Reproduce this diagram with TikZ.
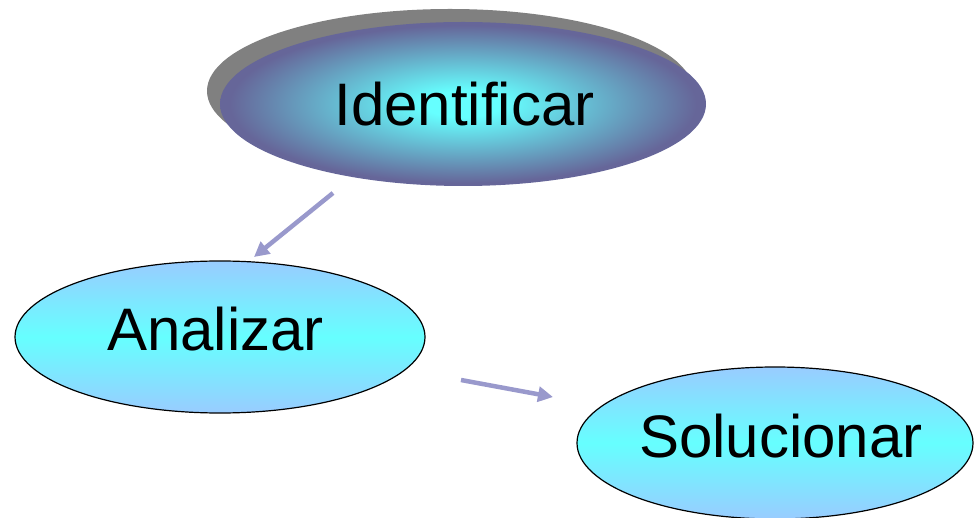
\documentclass[tikz,border=0pt]{standalone}
\usepackage{fontspec}
\setmainfont{Liberation Sans}
\usetikzlibrary{shapes.geometric,arrows.meta}
\definecolor{idcyan}{HTML}{66FFFF}
\definecolor{idslate}{HTML}{666699}
\definecolor{lblue}{HTML}{99CCFF}
\definecolor{arrowc}{HTML}{9999CC}
\definecolor{shadowc}{HTML}{808080}
\pgfdeclareradialshading{idshade}{\pgfpoint{0bp}{0bp}}{color(0bp)=(idcyan); color(4bp)=(idcyan); color(24bp)=(idslate); color(50bp)=(idslate)}
\begin{document}
\begin{tikzpicture}[x=1pt,y=-1pt,
  oval/.style={ellipse, inner sep=0pt, minimum height=152pt},
  lightoval/.style={oval, draw=black, line width=1.2pt, top color=lblue, bottom color=lblue, middle color=idcyan},
  lbl/.style={font=\fontsize{60}{72}\selectfont, inner sep=0pt, anchor=base},
  conn/.style={draw=arrowc, line width=4.5pt, -{Triangle[length=15pt,width=15pt]}}]
\useasboundingbox (0,0) rectangle (974,518);
\clip (0,0) rectangle (974,518);
% Identificar
\node[oval, fill=shadowc, minimum width=486pt, minimum height=164pt] (idshadow) at (450,91) {};
\node[oval, shading=idshade, minimum width=486pt, minimum height=164pt] (ident) at (463,104) {};
\node[lbl] (identt) at (464.5,126) {Identificar};
% Analizar
\node[lightoval, minimum width=410pt] (anal) at (220,337) {};
\node[lbl] (analt) at (215.5,351) {Analizar};
% Solucionar
\node[lightoval, minimum width=396pt] (solu) at (775,443) {};
\node[lbl] (solut) at (781,457) {Solucionar};
% arrows
\coordinate (a1s) at (333,193);
\coordinate (a1e) at (254,257);
\coordinate (a2s) at (461,380);
\coordinate (a2e) at (553,397);
\draw[conn] (a1s) -- (a1e);
\draw[conn] (a2s) -- (a2e);
\end{tikzpicture}
\end{document}
